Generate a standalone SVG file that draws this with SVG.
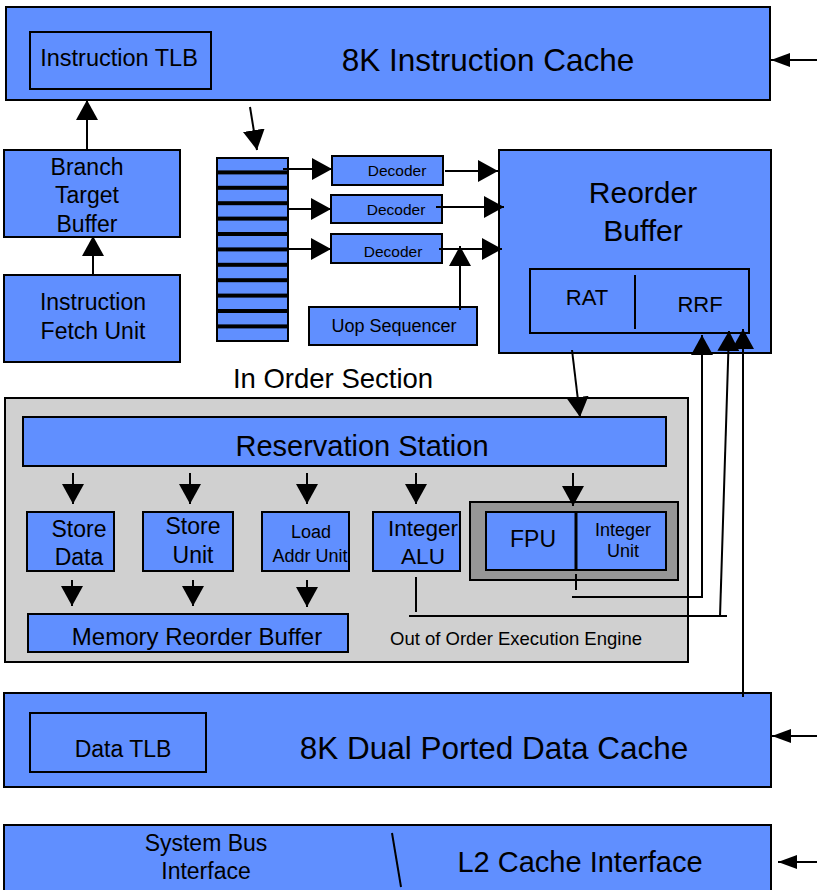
<svg xmlns="http://www.w3.org/2000/svg" width="819" height="890" viewBox="0 0 819 890">
<style>
.b{fill:#608fff;stroke:#000;stroke-width:2}
.o{fill:none;stroke:#000;stroke-width:2}
.t{font-family:"Liberation Sans",Arial,sans-serif;fill:#000;text-anchor:middle}
.l{fill:none;stroke:#000;stroke-width:2}
.a{fill:none;stroke:#000;stroke-width:2;marker-end:url(#ah)}
.s{fill:none;stroke:#000;stroke-width:2;marker-end:url(#as)}
</style>
<defs>
<marker id="ah" markerUnits="userSpaceOnUse" markerWidth="20" markerHeight="22" refX="20" refY="11" orient="auto"><path d="M0,0 L20,11 L0,22 z" fill="#000"/></marker>
<marker id="as" markerUnits="userSpaceOnUse" markerWidth="19" markerHeight="14" refX="19" refY="7" orient="auto"><path d="M0,0 L19,7 L0,14 z" fill="#000"/></marker>
</defs>
<rect width="819" height="890" fill="#fff"/>

<g id="instruction-cache">
<rect class="b" x="6" y="7" width="764" height="93"/>
<text class="t" x="488" y="71" font-size="31.5">8K Instruction Cache</text>
</g>
<g id="instruction-tlb">
<rect class="o" x="30" y="32" width="181" height="57"/>
<text class="t" x="119" y="66" font-size="23.5">Instruction TLB</text>
</g>
<g id="branch-target-buffer">
<rect class="b" x="4" y="150" width="176" height="87"/>
<text class="t" x="87" y="175" font-size="23">Branch</text>
<text class="t" x="87" y="203" font-size="23">Target</text>
<text class="t" x="87" y="232" font-size="23">Buffer</text>
</g>
<g id="instruction-fetch-unit">
<rect class="b" x="4" y="275" width="176" height="87"/>
<text class="t" x="93" y="310" font-size="23">Instruction</text>
<text class="t" x="93" y="339" font-size="23">Fetch Unit</text>
</g>
<g id="instruction-queue">
<rect x="216" y="157" width="73" height="185" fill="#000"/>
<rect class="b" x="217" y="158" width="71" height="13.4"/>
<rect class="b" x="217" y="173.4" width="71" height="13.4"/>
<rect class="b" x="217" y="188.8" width="71" height="13.4"/>
<rect class="b" x="217" y="204.2" width="71" height="13.4"/>
<rect class="b" x="217" y="219.6" width="71" height="13.4"/>
<rect class="b" x="217" y="235" width="71" height="13.4"/>
<rect class="b" x="217" y="250.4" width="71" height="13.4"/>
<rect class="b" x="217" y="265.8" width="71" height="13.4"/>
<rect class="b" x="217" y="281.2" width="71" height="13.4"/>
<rect class="b" x="217" y="296.6" width="71" height="13.4"/>
<rect class="b" x="217" y="312" width="71" height="13.4"/>
<rect class="b" x="217" y="327.4" width="71" height="13.6"/>
</g>
<g id="decoder-1">
<rect class="b" x="332" y="156" width="111" height="29"/>
<text class="t" x="397" y="176" font-size="15.5">Decoder</text>
</g>
<g id="decoder-2">
<rect class="b" x="331" y="195" width="111" height="28"/>
<text class="t" x="396" y="215" font-size="15.5">Decoder</text>
</g>
<g id="decoder-3">
<rect class="b" x="331" y="234" width="111" height="29"/>
<text class="t" x="393" y="257" font-size="15.5">Decoder</text>
</g>
<g id="uop-sequencer">
<rect class="b" x="309" y="307" width="168" height="38"/>
<text class="t" x="394" y="332" font-size="18">Uop Sequencer</text>
</g>
<g id="reorder-buffer">
<rect class="b" x="499" y="150" width="272" height="203"/>
<text class="t" x="643" y="203" font-size="30">Reorder</text>
<text class="t" x="643" y="241" font-size="30">Buffer</text>
</g>
<g id="rat-rrf">
<rect class="o" x="530" y="269" width="219" height="64"/>
<line class="l" x1="635" y1="275" x2="635" y2="329"/>
<text class="t" x="587" y="305" font-size="22">RAT</text>
<text class="t" x="700" y="312" font-size="22">RRF</text>
</g>
<g id="in-order-label">
<text class="t" x="333" y="388" font-size="27.5">In Order Section</text>
</g>
<g id="out-of-order-engine">
<rect x="5" y="398" width="683" height="264" fill="#d0d0d0" stroke="#000" stroke-width="2"/>
<text class="t" x="516" y="645" font-size="18.5">Out of Order Execution Engine</text>
</g>
<g id="reservation-station">
<rect class="b" x="23" y="417" width="643" height="49"/>
<text class="t" x="362" y="456" font-size="29">Reservation Station</text>
</g>
<g id="store-data">
<rect class="b" x="27" y="512" width="87" height="59"/>
<text class="t" x="79" y="537" font-size="23">Store</text>
<text class="t" x="79" y="565" font-size="23">Data</text>
</g>
<g id="store-unit">
<rect class="b" x="143" y="512" width="90" height="59"/>
<text class="t" x="193" y="534" font-size="23">Store</text>
<text class="t" x="193" y="563" font-size="23">Unit</text>
</g>
<g id="load-addr-unit">
<rect class="b" x="262" y="512" width="87" height="59"/>
<text class="t" x="311" y="538" font-size="18">Load</text>
<text class="t" x="310" y="562" font-size="18">Addr Unit</text>
</g>
<g id="integer-alu">
<rect class="b" x="373" y="512" width="87" height="59"/>
<text class="t" x="423" y="536" font-size="22.5">Integer</text>
<text class="t" x="423" y="564" font-size="22.5">ALU</text>
</g>
<g id="fpu-integer-unit">
<rect x="470" y="502" width="208" height="78" fill="#969696" stroke="#000" stroke-width="2"/>
<rect class="b" x="486" y="512" width="180" height="58"/>
<line x1="576" y1="512" x2="576" y2="570" stroke="#000" stroke-width="3"/>
<text class="t" x="533" y="547" font-size="23">FPU</text>
<text class="t" x="623" y="536" font-size="18">Integer</text>
<text class="t" x="623" y="557" font-size="18">Unit</text>
</g>
<g id="memory-reorder-buffer">
<rect class="b" x="28" y="614" width="320" height="38"/>
<text class="t" x="197" y="645" font-size="24">Memory Reorder Buffer</text>
</g>
<g id="data-cache">
<rect class="b" x="4" y="693" width="767" height="94"/>
<text class="t" x="494" y="759" font-size="31.5">8K Dual Ported Data Cache</text>
</g>
<g id="data-tlb">
<rect class="o" x="30" y="713" width="176" height="59"/>
<text class="t" x="123" y="757" font-size="23">Data TLB</text>
</g>
<g id="bus-interface">
<rect class="b" x="4" y="825" width="767" height="70"/>
<line class="l" x1="392" y1="833" x2="401" y2="887"/>
<text class="t" x="206" y="851" font-size="23">System Bus</text>
<text class="t" x="206" y="879" font-size="23">Interface</text>
<text class="t" x="580" y="872" font-size="29">L2 Cache Interface</text>
</g>

<g id="connectors">
<line class="s" x1="817" y1="60" x2="771" y2="60"/>
<line class="s" x1="817" y1="736" x2="772" y2="736"/>
<line class="s" x1="817" y1="862" x2="778" y2="862"/>
<line class="a" x1="87" y1="150" x2="87" y2="100"/>
<line class="a" x1="93" y1="275" x2="93" y2="236"/>
<line class="a" x1="250" y1="107" x2="257" y2="150"/>
<line class="a" x1="283" y1="169" x2="332" y2="169"/>
<line class="a" x1="287" y1="209" x2="331" y2="209"/>
<line class="a" x1="289" y1="249" x2="331" y2="249"/>
<line class="a" x1="445" y1="171" x2="498" y2="171"/>
<line class="a" x1="436" y1="207" x2="504" y2="207"/>
<line class="a" x1="439" y1="249" x2="502" y2="249"/>
<line class="a" x1="460" y1="310" x2="460" y2="246"/>
<line class="a" x1="572" y1="350" x2="580" y2="417"/>
<line class="a" x1="73" y1="473" x2="73" y2="504"/>
<line class="a" x1="190" y1="473" x2="190" y2="504"/>
<line class="a" x1="307" y1="473" x2="307" y2="504"/>
<line class="a" x1="416" y1="473" x2="416" y2="504"/>
<line class="a" x1="573" y1="473" x2="573" y2="506"/>
<line class="a" x1="72" y1="580" x2="72" y2="606"/>
<line class="a" x1="193" y1="580" x2="193" y2="606"/>
<line class="a" x1="307" y1="580" x2="307" y2="607"/>
<line class="l" x1="576" y1="574" x2="576" y2="590"/>
<line class="l" x1="572" y1="597" x2="703" y2="597"/>
<line class="a" x1="702" y1="597" x2="702" y2="335"/>
<line class="l" x1="416" y1="577" x2="416" y2="612"/>
<line class="l" x1="409" y1="616" x2="727" y2="616"/>
<line class="a" x1="720" y1="617" x2="729" y2="331"/>
<line class="a" x1="743" y1="697" x2="743" y2="329"/>
</g>
</svg>
